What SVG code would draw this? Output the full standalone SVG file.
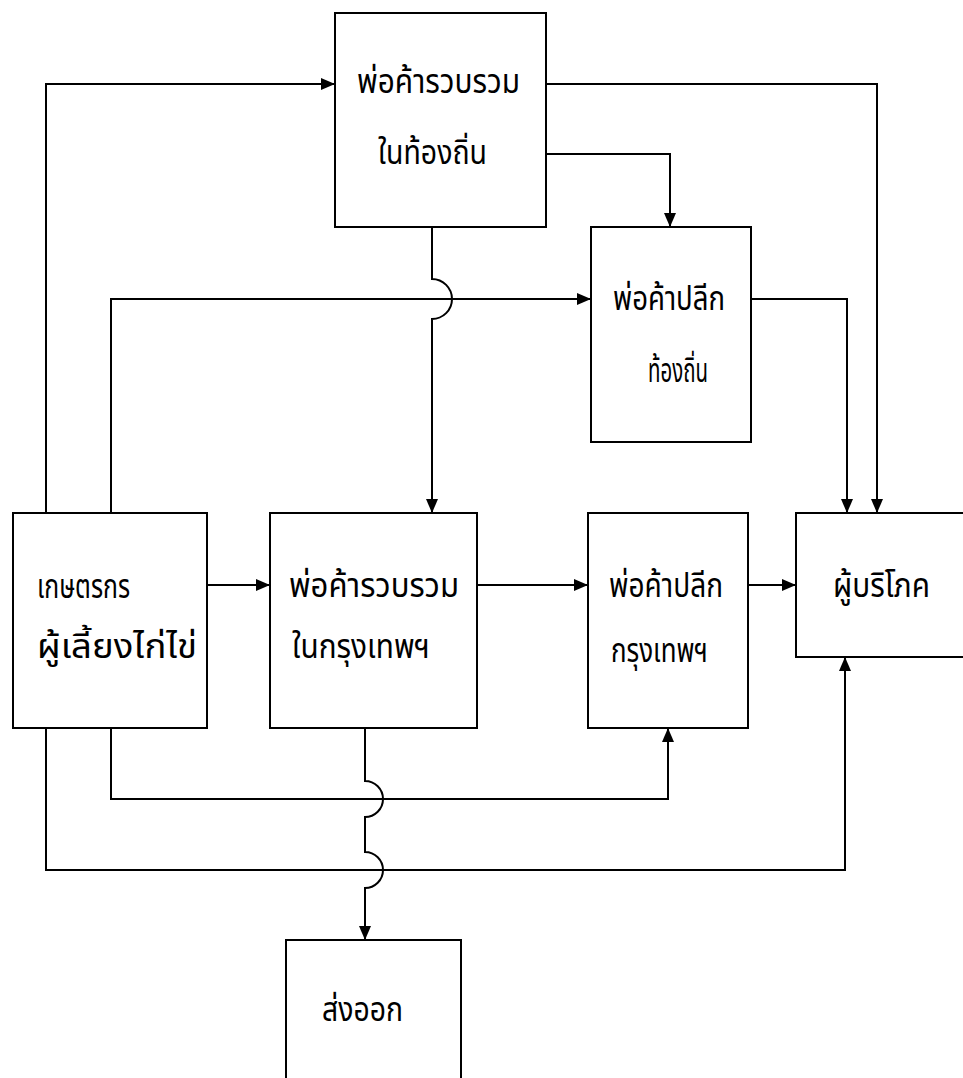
<svg xmlns="http://www.w3.org/2000/svg" width="963" height="1078" viewBox="0 0 963 1078">
<style>
.box{fill:#fff;stroke:#000;stroke-width:2}
.c{fill:none;stroke:#000;stroke-width:2}
.t{font-family:"Noto Sans Thai","Tlwg Typo","Loma","Garuda","Norasi","Noto Sans","DejaVu Sans",sans-serif;font-size:33px;fill:#000}
</style>
<defs>
<marker id="ah" markerUnits="userSpaceOnUse" markerWidth="14" markerHeight="12" refX="14" refY="6" orient="auto">
<path d="M0,0 L14,6 L0,12 z" fill="#000"/>
</marker>
</defs>
<rect width="963" height="1078" fill="#fff"/>
<g id="connectors">
<path class="c" d="M46 513 V84 H335" marker-end="url(#ah)"/>
<path class="c" d="M111 513 V299 H591" marker-end="url(#ah)"/>
<path class="c" d="M546 84 H877 V513" marker-end="url(#ah)"/>
<path class="c" d="M546 154 H670 V227" marker-end="url(#ah)"/>
<path class="c" d="M432 227 V279 A20 20 0 0 1 432 319 V513" marker-end="url(#ah)"/>
<path class="c" d="M751 299 H847 V513" marker-end="url(#ah)"/>
<path class="c" d="M207 585 H270" marker-end="url(#ah)"/>
<path class="c" d="M477 585 H588" marker-end="url(#ah)"/>
<path class="c" d="M748 585 H796" marker-end="url(#ah)"/>
<path class="c" d="M111 728 V799 H668 V728" marker-end="url(#ah)"/>
<path class="c" d="M46 728 V870 H845 V657" marker-end="url(#ah)"/>
<path class="c" d="M365 728 V781 A18 18 0 0 1 365 817 V852 A18 18 0 0 1 365 888 V940" marker-end="url(#ah)"/>
</g>
<g id="local-collector">
<rect class="box" x="335" y="13" width="211" height="214"/>
<text class="t" x="357" y="93" textLength="163" lengthAdjust="spacingAndGlyphs">พ่อค้ารวบรวม</text>
<text class="t" x="378" y="164" textLength="109" lengthAdjust="spacingAndGlyphs">ในท้องถิ่น</text>
</g>
<g id="local-retailer">
<rect class="box" x="591" y="227" width="160" height="215"/>
<text class="t" x="613" y="310" textLength="112" lengthAdjust="spacingAndGlyphs">พ่อค้าปลีก</text>
<text class="t" x="648" y="382" textLength="60" lengthAdjust="spacingAndGlyphs">ท้องถิ่น</text>
</g>
<g id="farmer">
<rect class="box" x="13" y="513" width="194" height="215"/>
<text class="t" x="37" y="598" textLength="93" lengthAdjust="spacingAndGlyphs">เกษตรกร</text>
<text class="t" x="37" y="658" textLength="160" lengthAdjust="spacingAndGlyphs">ผู้เลี้ยงไก่ไข่</text>
</g>
<g id="bkk-collector">
<rect class="box" x="270" y="513" width="207" height="215"/>
<text class="t" x="289" y="597" textLength="170" lengthAdjust="spacingAndGlyphs">พ่อค้ารวบรวม</text>
<text class="t" x="292" y="658" textLength="138" lengthAdjust="spacingAndGlyphs">ในกรุงเทพฯ</text>
</g>
<g id="bkk-retailer">
<rect class="box" x="588" y="513" width="160" height="215"/>
<text class="t" x="609" y="597" textLength="114" lengthAdjust="spacingAndGlyphs">พ่อค้าปลีก</text>
<text class="t" x="611" y="662" textLength="97" lengthAdjust="spacingAndGlyphs">กรุงเทพฯ</text>
</g>
<g id="consumer">
<rect class="box" x="796" y="513" width="180" height="144"/>
<text class="t" x="833" y="597" textLength="97" lengthAdjust="spacingAndGlyphs">ผู้บริโภค</text>
</g>
<g id="export">
<rect class="box" x="286" y="940" width="175" height="150"/>
<text class="t" x="322" y="1021" textLength="81" lengthAdjust="spacingAndGlyphs">ส่งออก</text>
</g>
</svg>
